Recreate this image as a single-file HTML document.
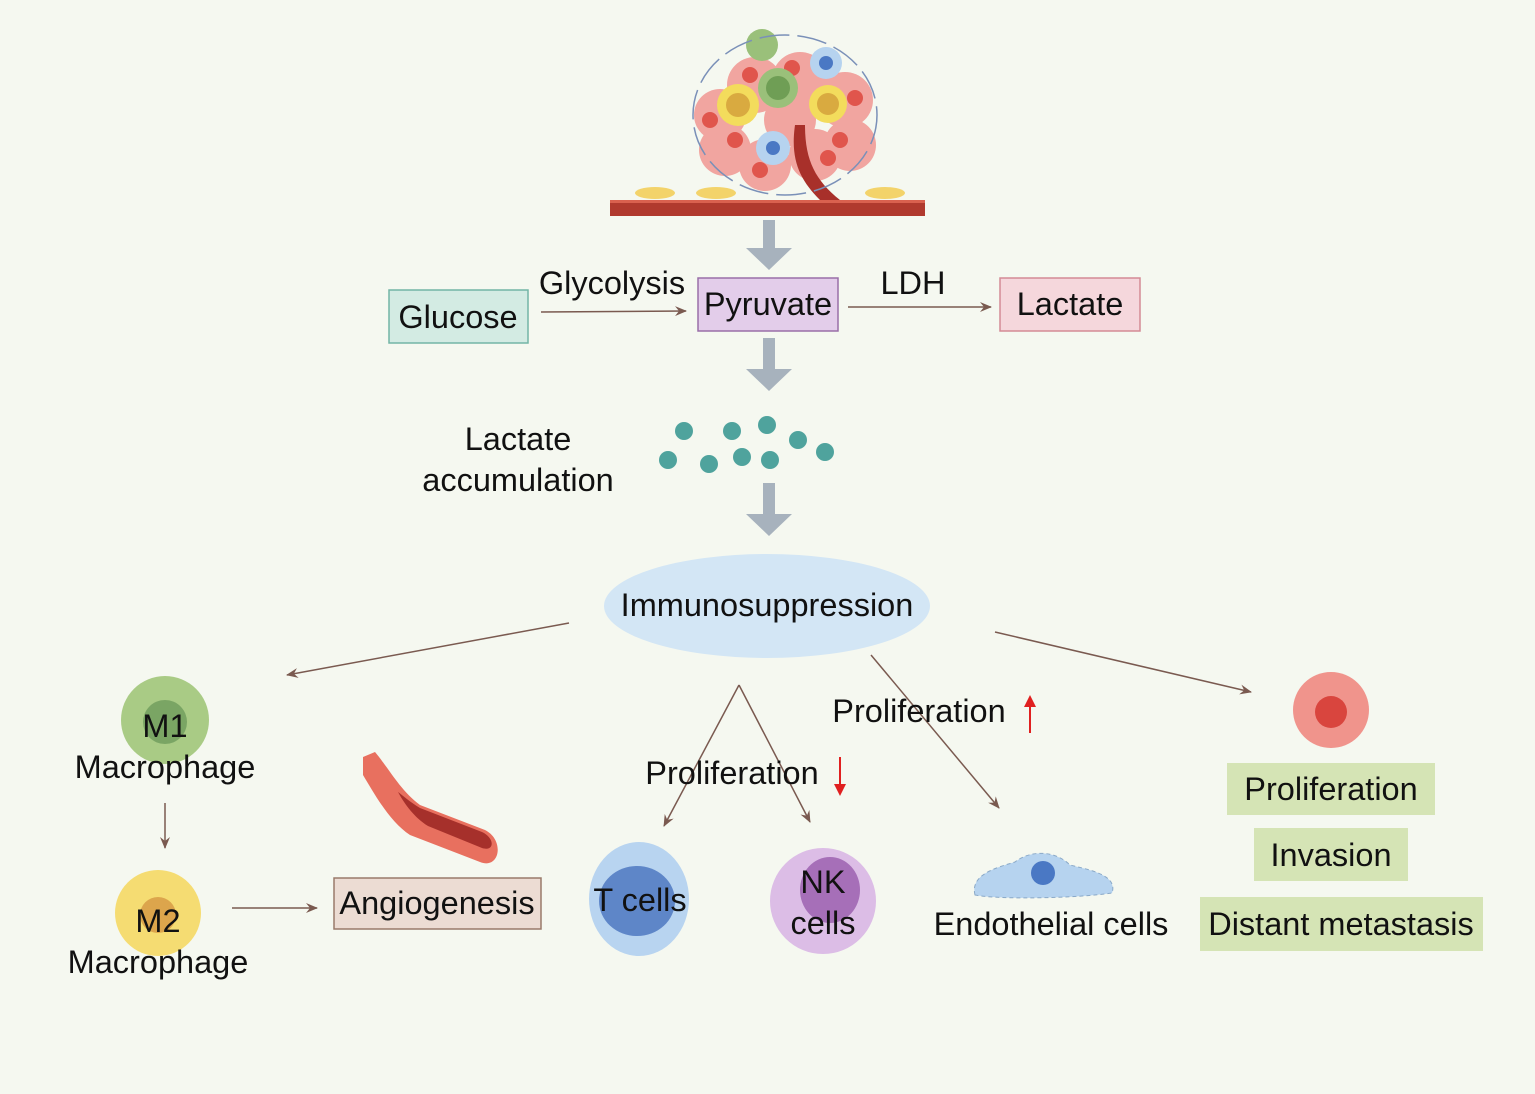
<!DOCTYPE html>
<html><head><meta charset="utf-8"><style>
html,body{margin:0;padding:0;background:#f5f8f0;}
svg{display:block;}
text{font-family:"Liberation Sans",Arial,sans-serif;fill:#111;}
</style></head><body>
<svg width="1535" height="1094" viewBox="0 0 1535 1094" xmlns="http://www.w3.org/2000/svg">
<defs>
<marker id="ah" markerWidth="12" markerHeight="10" refX="11" refY="5" orient="auto" markerUnits="userSpaceOnUse">
<path d="M0,0 L12,5 L0,10 L4,5 Z" fill="#7a5a50"/></marker>
</defs>
<rect width="1535" height="1094" fill="#f5f8f0"/>

<!-- tumor illustration -->
<g>
<rect x="610" y="200" width="315" height="16" fill="#b03a2e"/>
<rect x="610" y="200" width="315" height="3" fill="#d9614f"/>
<ellipse cx="655" cy="193" rx="20" ry="6" fill="#f3d36a"/>
<ellipse cx="716" cy="193" rx="20" ry="6" fill="#f3d36a"/>
<ellipse cx="885" cy="193" rx="20" ry="6" fill="#f3d36a"/>
<circle cx="720" cy="115" r="26" fill="#f1a5a0"/>
<circle cx="755" cy="85" r="28" fill="#f1a5a0"/>
<circle cx="800" cy="80" r="28" fill="#f1a5a0"/>
<circle cx="845" cy="100" r="28" fill="#f1a5a0"/>
<circle cx="850" cy="145" r="26" fill="#f1a5a0"/>
<circle cx="725" cy="150" r="26" fill="#f1a5a0"/>
<circle cx="765" cy="165" r="26" fill="#f1a5a0"/>
<circle cx="815" cy="155" r="26" fill="#f1a5a0"/>
<circle cx="790" cy="120" r="26" fill="#f1a5a0"/>
<circle cx="750" cy="75" r="8" fill="#e0554c"/><circle cx="792" cy="68" r="8" fill="#e0554c"/>
<circle cx="855" cy="98" r="8" fill="#e0554c"/><circle cx="840" cy="140" r="8" fill="#e0554c"/>
<circle cx="735" cy="140" r="8" fill="#e0554c"/><circle cx="760" cy="170" r="8" fill="#e0554c"/>
<circle cx="828" cy="158" r="8" fill="#e0554c"/><circle cx="710" cy="120" r="8" fill="#e0554c"/>
<path d="M820,200 C800,180 790,160 795,125 L805,125 C805,160 815,180 840,200 Z" fill="#a8302a"/>
<circle cx="762" cy="45" r="16" fill="#9ac07a"/>
<circle cx="778" cy="88" r="20" fill="#9ac07a"/><circle cx="778" cy="88" r="12" fill="#6f9e55"/>
<circle cx="738" cy="105" r="21" fill="#f3dc5c"/><circle cx="738" cy="105" r="12" fill="#d9aa40"/>
<circle cx="828" cy="104" r="19" fill="#f3dc5c"/><circle cx="828" cy="104" r="11" fill="#d9aa40"/>
<circle cx="826" cy="63" r="16" fill="#b6d3ef"/><circle cx="826" cy="63" r="7" fill="#4a78c4"/>
<circle cx="773" cy="148" r="17" fill="#b6d3ef"/><circle cx="773" cy="148" r="7" fill="#4a78c4"/>
<ellipse cx="785" cy="115" rx="92" ry="80" fill="none" stroke="#7a90b8" stroke-width="1.5" stroke-dasharray="30 8"/>
</g>

<!-- grey block arrows -->
<g fill="#a7b2bd">
<rect x="763" y="220" width="12" height="30"/><path d="M746,248 L792,248 L769,270 Z"/>
<rect x="763" y="338" width="12" height="33"/><path d="M746,369 L792,369 L769,391 Z"/>
<rect x="763" y="483" width="12" height="33"/><path d="M746,514 L792,514 L769,536 Z"/>
</g>

<g font-size="32.5">
<!-- top boxes -->
<rect x="389" y="290" width="139" height="53" fill="#d3ebe3" stroke="#73b5a6" stroke-width="1.5"/>
<text x="458" y="328" text-anchor="middle">Glucose</text>
<rect x="698" y="278" width="140" height="53" fill="#e3cdea" stroke="#9a6fa8" stroke-width="1.5"/>
<text x="768" y="315" text-anchor="middle">Pyruvate</text>
<rect x="1000" y="278" width="140" height="53" fill="#f5d7dc" stroke="#d48a95" stroke-width="1.5"/>
<text x="1070" y="315" text-anchor="middle">Lactate</text>
<text x="612" y="294" text-anchor="middle">Glycolysis</text>
<text x="913" y="294" text-anchor="middle">LDH</text>
<g stroke="#7a5a50" stroke-width="1.5" fill="none">
<line x1="541" y1="312" x2="686" y2="311" marker-end="url(#ah)"/>
<line x1="848" y1="307" x2="991" y2="307" marker-end="url(#ah)"/>
</g>

<!-- lactate dots -->
<text x="518" y="450" text-anchor="middle">Lactate</text>
<text x="518" y="491" text-anchor="middle">accumulation</text>
<g fill="#4fa39d">
<circle cx="684" cy="431" r="9"/><circle cx="732" cy="431" r="9"/><circle cx="767" cy="425" r="9"/>
<circle cx="798" cy="440" r="9"/><circle cx="825" cy="452" r="9"/><circle cx="668" cy="460" r="9"/>
<circle cx="709" cy="464" r="9"/><circle cx="742" cy="457" r="9"/><circle cx="770" cy="460" r="9"/>
</g>

<!-- immunosuppression -->
<ellipse cx="767" cy="606" rx="163" ry="52" fill="#d3e6f5"/>
<text x="767" y="616" text-anchor="middle">Immunosuppression</text>

<g stroke="#7a5a50" stroke-width="1.5" fill="none">
<line x1="569" y1="623" x2="287" y2="675" marker-end="url(#ah)"/>
<line x1="739" y1="685" x2="664" y2="826" marker-end="url(#ah)"/>
<line x1="739" y1="685" x2="810" y2="822" marker-end="url(#ah)"/>
<line x1="871" y1="655" x2="999" y2="808" marker-end="url(#ah)"/>
<line x1="995" y1="632" x2="1251" y2="692" marker-end="url(#ah)"/>
<line x1="165" y1="803" x2="165" y2="848" marker-end="url(#ah)"/>
<line x1="232" y1="908" x2="317" y2="908" marker-end="url(#ah)"/>
</g>

<!-- macrophages -->
<circle cx="165" cy="720" r="44" fill="#a9cb85"/><circle cx="165" cy="722" r="22" fill="#7aa564"/>
<text x="165" y="737" text-anchor="middle">M1</text>
<text x="165" y="778" text-anchor="middle">Macrophage</text>
<circle cx="158" cy="913" r="43" fill="#f5dc72"/><circle cx="158" cy="915" r="18" fill="#dca54c"/>
<text x="158" y="932" text-anchor="middle">M2</text>
<text x="158" y="973" text-anchor="middle">Macrophage</text>

<!-- vessel -->
<path d="M363,757 L375,752 C390,770 400,790 420,805 L485,830 C505,840 500,870 480,862 L410,835 C390,822 375,795 363,775 Z" fill="#e8705f"/>
<path d="M398,792 C405,805 415,818 428,826 L482,848 C495,852 495,838 482,832 L420,808 C410,802 402,795 398,792 Z" fill="#a6302b"/>
<rect x="334" y="878" width="207" height="51" fill="#ecdcd3" stroke="#9a7a6a" stroke-width="1.5"/>
<text x="437" y="914" text-anchor="middle">Angiogenesis</text>

<!-- T / NK -->
<text x="732" y="784" text-anchor="middle">Proliferation</text>
<line x1="840" y1="757" x2="840" y2="788" stroke="#e02020" stroke-width="2"/>
<path d="M834,784 L840,796 L846,784 Z" fill="#e02020"/>
<text x="919" y="722" text-anchor="middle">Proliferation</text>
<line x1="1030" y1="733" x2="1030" y2="703" stroke="#e02020" stroke-width="2"/>
<path d="M1024,707 L1030,695 L1036,707 Z" fill="#e02020"/>

<ellipse cx="639" cy="899" rx="50" ry="57" fill="#b8d4f0"/><ellipse cx="637" cy="901" rx="38" ry="35" fill="#5e86c8"/>
<text x="640" y="911" text-anchor="middle">T cells</text>
<circle cx="823" cy="901" r="53" fill="#dcbde6"/><ellipse cx="830" cy="890" rx="30" ry="33" fill="#a66fb8"/>
<text x="823" y="893" text-anchor="middle">NK</text>
<text x="823" y="934" text-anchor="middle">cells</text>

<path d="M975,895 C970,875 995,868 1015,862 C1030,850 1055,850 1070,865 C1090,870 1118,875 1112,893 C1080,898 1000,900 975,895 Z" fill="#b6d3ef" stroke="#8aa9c8" stroke-dasharray="4 3"/>
<circle cx="1043" cy="873" r="12" fill="#4a78c4"/>
<text x="1051" y="935" text-anchor="middle">Endothelial cells</text>

<!-- tumor cell + outcomes -->
<circle cx="1331" cy="710" r="38" fill="#f0948c"/><circle cx="1331" cy="712" r="16" fill="#d9453e"/>
<rect x="1227" y="763" width="208" height="52" fill="#d5e4b5"/>
<text x="1331" y="800" text-anchor="middle">Proliferation</text>
<rect x="1254" y="828" width="154" height="53" fill="#d5e4b5"/>
<text x="1331" y="866" text-anchor="middle">Invasion</text>
<rect x="1200" y="897" width="283" height="54" fill="#d5e4b5"/>
<text x="1341" y="935" text-anchor="middle">Distant metastasis</text>
</g>
</svg>
</body></html>
